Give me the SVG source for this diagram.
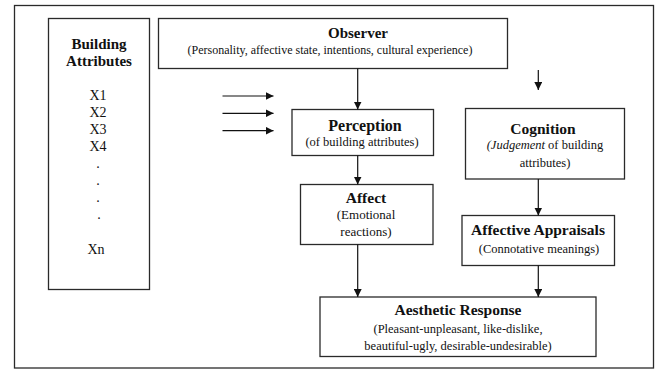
<svg xmlns="http://www.w3.org/2000/svg" width="655" height="371" viewBox="0 0 655 371">
<style>
.box{fill:#fff;stroke:#2a2a2a;stroke-width:1.3}
text{font-family:'Liberation Serif','Times New Roman',serif;fill:#111;text-anchor:middle}
.b{font-weight:bold;font-size:15.5px}
.s{font-size:12.5px}
.x{font-size:14px}
.c{stroke:#111;stroke-width:1.2;fill:none}
</style>
<defs>
<marker id="ah" viewBox="0 0 10 10" refX="10" refY="5" markerWidth="8" markerHeight="8" markerUnits="userSpaceOnUse" orient="auto">
<path d="M0,0 L10,5 L0,10 z" fill="#111"/>
</marker>
</defs>
<rect x="14.5" y="5.5" width="639" height="362.5" fill="none" stroke="#2a2a2a" stroke-width="1.3"/>
<g id="building-attributes">
<rect class="box" x="48.5" y="18.5" width="101" height="271"/>
<text class="b" x="99" y="49" style="font-size:15px">Building</text>
<text class="b" x="99" y="66" style="font-size:15px">Attributes</text>
<text class="x" x="98" y="100">X1</text>
<text class="x" x="98" y="117">X2</text>
<text class="x" x="98" y="134">X3</text>
<text class="x" x="98" y="151">X4</text>
<text class="x" x="98" y="168">.</text>
<text class="x" x="98" y="185">.</text>
<text class="x" x="98" y="202">.</text>
<text class="x" x="99" y="219">.</text>
<text class="x" x="96" y="254">Xn</text>
</g>
<g id="observer">
<rect class="box" x="158.5" y="18.5" width="349" height="50"/>
<text class="b" x="358" y="38" style="font-size:15px">Observer</text>
<text class="s" x="330" y="54" style="font-size:12px">(Personality, affective state, intentions, cultural experience)</text>
</g>
<g id="perception">
<rect class="box" x="292" y="109.5" width="141.5" height="46"/>
<text class="b" x="365" y="131" style="font-size:16px">Perception</text>
<text class="s" x="362" y="146">(of building attributes)</text>
</g>
<g id="cognition">
<rect class="box" x="465.5" y="108.5" width="159" height="70.5"/>
<text class="b" x="543" y="134" style="font-size:15.5px">Cognition</text>
<text class="s" x="545" y="149"><tspan font-style="italic">(Judgement</tspan>  of building</text>
<text class="s" x="545" y="167">attributes)</text>
</g>
<g id="affect">
<rect class="box" x="300.5" y="184.5" width="132.5" height="60"/>
<text class="b" x="366" y="203">Affect</text>
<text class="s" x="366" y="219" style="font-size:13px">(Emotional</text>
<text class="s" x="366" y="236" style="font-size:13px">reactions)</text>
</g>
<g id="affective-appraisals">
<rect class="box" x="462" y="215.5" width="152.5" height="50"/>
<text class="b" x="538" y="235">Affective Appraisals</text>
<text class="s" x="539" y="253">(Connotative meanings)</text>
</g>
<g id="aesthetic-response">
<rect class="box" x="320" y="297" width="276" height="59.5"/>
<text class="b" x="458" y="315">Aesthetic Response</text>
<text class="s" x="458" y="333">(Pleasant-unpleasant, like-dislike,</text>
<text class="s" x="458" y="350">beautiful-ugly, desirable-undesirable)</text>
</g>
<g id="connectors">
<line class="c" x1="222.5" y1="96" x2="273.5" y2="96" marker-end="url(#ah)"/>
<line class="c" x1="222.5" y1="113.3" x2="273.5" y2="113.3" marker-end="url(#ah)"/>
<line class="c" x1="222.5" y1="130.7" x2="273.5" y2="130.7" marker-end="url(#ah)"/>
<line class="c" x1="357.7" y1="68.5" x2="357.7" y2="109.5" marker-end="url(#ah)"/>
<line class="c" x1="538.3" y1="70" x2="538.3" y2="90" marker-end="url(#ah)"/>
<line class="c" x1="357.7" y1="155.5" x2="357.7" y2="184.5" marker-end="url(#ah)"/>
<line class="c" x1="538.3" y1="179" x2="538.3" y2="215.5" marker-end="url(#ah)"/>
<line class="c" x1="357.7" y1="244.5" x2="357.7" y2="297" marker-end="url(#ah)"/>
<line class="c" x1="538.3" y1="265.5" x2="538.3" y2="297" marker-end="url(#ah)"/>
</g>
</svg>
